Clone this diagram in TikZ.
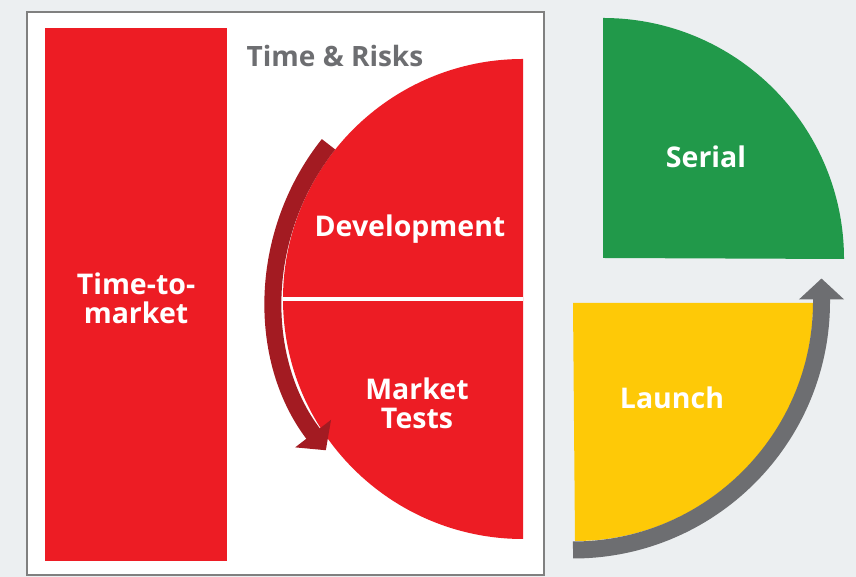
\documentclass[tikz,border=0pt]{standalone}
\usepackage{fontspec}
\setmainfont{Open Sans}
\usetikzlibrary{arrows.meta}

\definecolor{riskred}{RGB}{237,28,36}
\definecolor{darkred}{RGB}{163,27,34}
\definecolor{serialgreen}{RGB}{33,153,74}
\definecolor{launchyellow}{RGB}{254,201,7}
\definecolor{arrowgray}{RGB}{109,110,113}
\definecolor{framegray}{RGB}{128,128,128}
\definecolor{bggray}{RGB}{236,239,241}

\begin{document}
\begin{tikzpicture}[x=1pt, y=1pt,
    lbl/.style={text=white, font=\bfseries\fontsize{28.5}{29}\selectfont, align=center},
    bigarrow/.style={line width=17pt, -{Triangle[width=44pt, length=21pt]}}]
  % page and frame
  \fill[bggray] (0,0) rectangle (856,577);
  \draw[framegray, line width=2.5pt, fill=white] (27,2) rectangle (544,565);

  % left column
  \fill[riskred] (45,16) rectangle (227,549);
  \node[lbl] (ttm) at (136,279) {Time-to-\\market};

  % half disc, split in two
  \fill[riskred] (523,518) arc (90:270:240) -- cycle;
  \draw[white, line width=4pt] (283,278) -- (523,278);
  \draw[darkred, bigarrow] (523,278) ++(141.5:248.5) arc (141.5:217.5:248.5);
  \node[text=arrowgray, font=\bfseries\fontsize{28}{30}\selectfont, anchor=base] (title) at (335,510) {Time \& Risks};
  \node[lbl, anchor=base] (dev) at (410,340) {Development};
  \node[lbl] (tests) at (417,174) {Market\\Tests};

  % right quarters
  \fill[serialgreen] (603,319) -- (603,559) arc (90:0:241) -- cycle;
  \node[lbl, anchor=base] (serial) at (706,409) {Serial};
  \fill[launchyellow] (573,274) -- (813,274) arc (0:-90:238) -- cycle;
  \draw[arrowgray, bigarrow] (573,274) ++(270:247) arc (270:360:248.5) -- ++(0,23);
  \node[lbl, anchor=base] (launch) at (672,168) {Launch};
\end{tikzpicture}
\end{document}
